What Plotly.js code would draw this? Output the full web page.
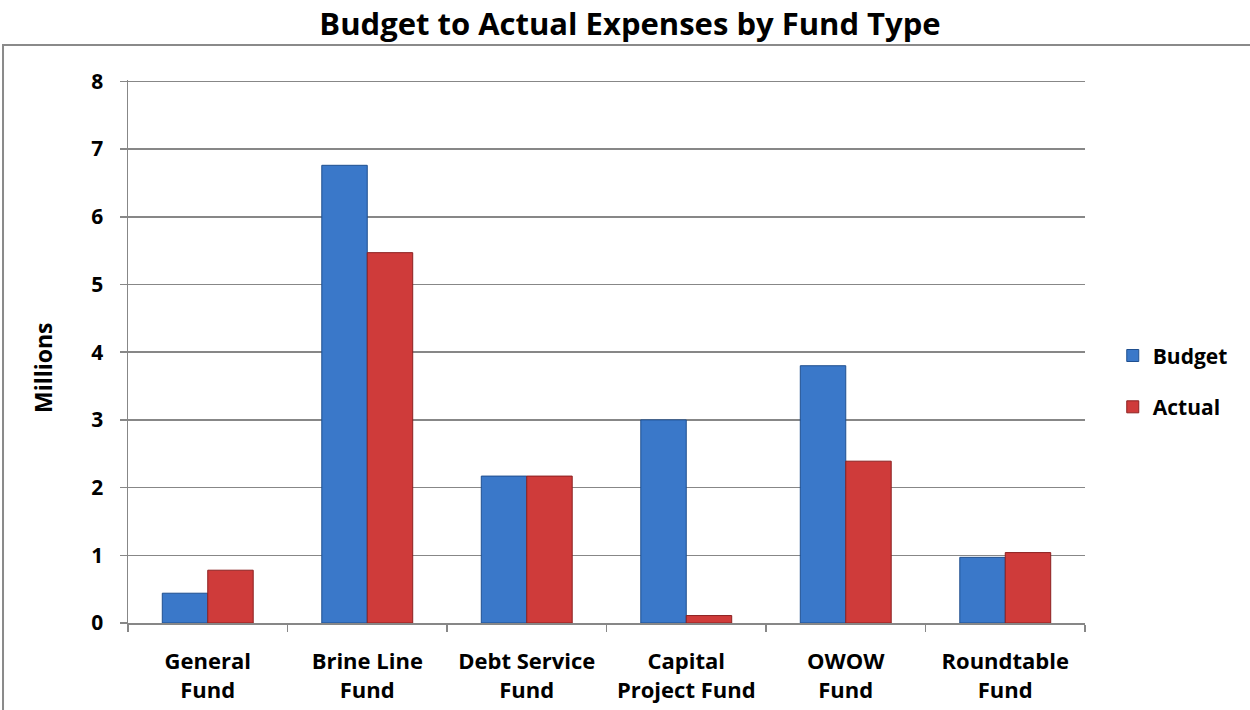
<!DOCTYPE html>
<html>
<head>
<meta charset="utf-8">
<script src="https://cdn.plot.ly/plotly-3.0.1.min.js"></script>
<style>
html,body{margin:0;padding:0;background:#fff;}
#chart{width:1250px;height:710px;}
</style>
</head>
<body>
<div id="chart"></div>
<script>
var categories = ["General Fund", "Brine Line Fund", "Debt Service Fund", "Capital Project Fund", "OWOW Fund", "Roundtable Fund"];
var tickLabels = ["General<br>Fund", "Brine Line<br>Fund", "Debt Service<br>Fund", "Capital<br>Project Fund", "OWOW<br>Fund", "Roundtable<br>Fund"];
var budget = [0.44, 6.76, 2.17, 3.00, 3.80, 0.97];
var actual = [0.78, 5.47, 2.17, 0.11, 2.39, 1.04];
var yTicks = [0, 1, 2, 3, 4, 5, 6, 7, 8];

var fontFam = "'Open Sans', sans-serif";
var traces = [
  {type:'bar', name:'Budget', x:categories, y:budget, legendgroup:'b',
   marker:{color:'#3A78C9', line:{color:'#1F4F8F', width:1}}},
  {type:'bar', name:'Actual', x:categories, y:actual, legendgroup:'a',
   marker:{color:'#CF3B3A', line:{color:'#8C2020', width:1}}}
];
var layout = {
  width:1250, height:710,
  margin:{l:128, r:165, t:80, b:87},
  paper_bgcolor:'#fff', plot_bgcolor:'#fff',
  font:{family:fontFam, size:18, color:'#000', weight:'bold'},
  title:{text:'Budget to Actual Expenses by Fund Type', x:630/1250, xref:'container', xanchor:'center',
         y:1 - 24/710, yref:'container', yanchor:'middle',
         font:{family:fontFam, size:31, weight:'bold', color:'#000'}},
  bargap:0.43, bargroupgap:0,
  showlegend:true,
  legend:{x:1.029, xanchor:'left', y:0.445, yanchor:'middle', font:{size:21, weight:'bold'},
          tracegroupgap:21, itemwidth:30},
  xaxis:{type:'category', tickvals:categories, ticktext:tickLabels,
         showline:true, linecolor:'#878787', linewidth:1.5,
         ticks:'outside', tickson:'boundaries', ticklen:7, tickcolor:'#878787', tickwidth:1.5,
         showgrid:false, tickfont:{size:22, weight:'bold'}, ticklabelstandoff:18},
  yaxis:{range:[0,8.02], tickvals:yTicks, ticktext:yTicks.map(String),
         showline:true, linecolor:'#878787', linewidth:1.5,
         ticks:'outside', ticklen:7, tickcolor:'#878787', tickwidth:1.5,
         showgrid:true, gridcolor:'#878787', gridwidth:1.5, zeroline:false,
         tickfont:{size:21, weight:'bold'}, ticklabelstandoff:12},
  annotations:[{text:'Millions', textangle:-90, xref:'paper', yref:'paper',
                x:(43-128)/957, y:(623-368)/543, xanchor:'center', yanchor:'middle',
                showarrow:false, font:{size:23, weight:'bold', color:'#000'}}],
  shapes:[{type:'rect', xref:'paper', yref:'paper', x0:-0.1306, x1:1.2, y0:-0.3, y1:1.0645,
           line:{color:'#8A8A8A', width:2}, fillcolor:'rgba(0,0,0,0)', layer:'below'}]
};
Plotly.newPlot('chart', traces, layout, {displayModeBar:false, staticPlot:true});
</script>
</body>
</html>
